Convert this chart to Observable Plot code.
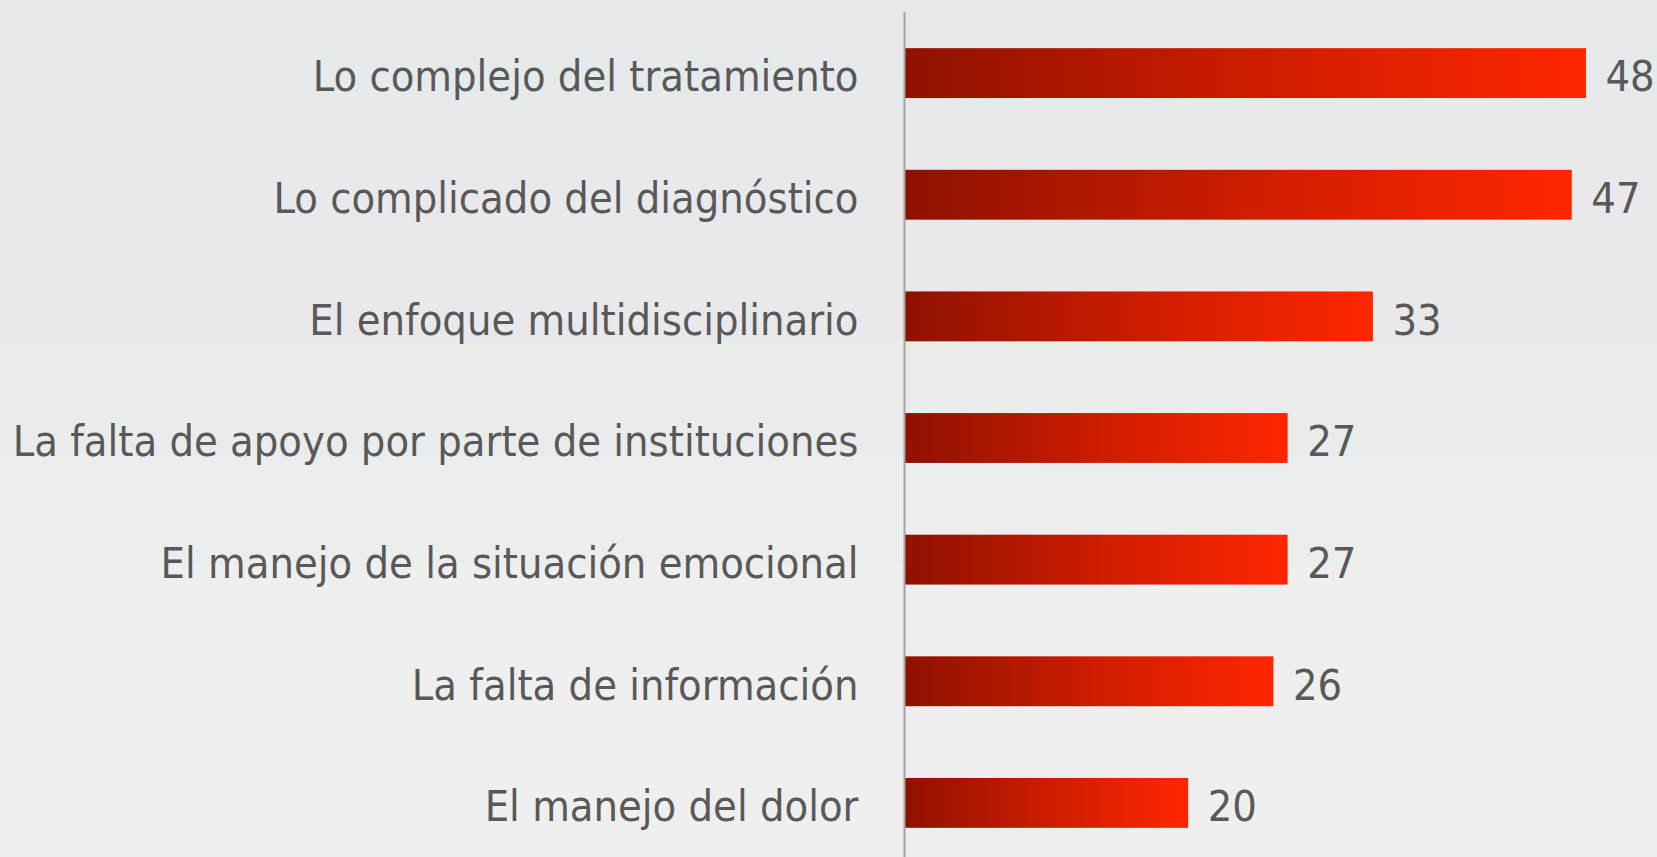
<!DOCTYPE html>
<html>
<head>
<meta charset="utf-8">
<script src="https://cdn.jsdelivr.net/npm/d3@7"></script>
<script src="https://cdn.jsdelivr.net/npm/@observablehq/plot@0.6"></script>
<style>
  html, body { margin: 0; padding: 0; }
  body {
    width: 1657px; height: 857px; overflow: hidden;
    background: linear-gradient(180deg,
      #e6e9ea 0px, #e7eaeb 115px, #e9e9ec 118px, #e9e9eb 340px,
      #e9ede9 343px, #eaeceb 455px, #ebeeee 458px, #eceeee 565px,
      #efefef 568px, #efefef 857px);
  }
  #chart svg { display: block; background: transparent; }
</style>
</head>
<body>
<div id="chart"></div>
<script>
const categories = [
  "Lo complejo del tratamiento",
  "Lo complicado del diagnóstico",
  "El enfoque multidisciplinario",
  "La falta de apoyo por parte de instituciones",
  "El manejo de la situación emocional",
  "La falta de información",
  "El manejo del dolor"
];
const values = [48, 47, 33, 27, 27, 26, 20];

const data = categories.map((c, i) => ({category: c, value: values[i]}));

const font = "'Liberation Sans Narrow', 'DejaVu Sans Condensed', 'Open Sans', sans-serif";

const plot = Plot.plot({
  width: 1657,
  height: 857,
  marginLeft: 904,
  marginRight: 71,
  marginTop: 36,
  marginBottom: 17,
  style: {background: "transparent", fontFamily: font, color: "#595959"},
  x: {domain: [0, 48], axis: null},
  y: {domain: categories, paddingInner: 0.59, paddingOuter: 0.1, round: false, axis: null},
  marks: [
    () => {
      const svg = d3.create("svg:defs");
      const g = svg.append("linearGradient").attr("id", "barGrad")
        .attr("x1", "0%").attr("x2", "100%").attr("y1", "0%").attr("y2", "0%");
      g.append("stop").attr("offset", "0%").attr("stop-color", "#8e1100");
      g.append("stop").attr("offset", "50%").attr("stop-color", "#cc1c00");
      g.append("stop").attr("offset", "100%").attr("stop-color", "#ff2600");
      return svg.node();
    },
    Plot.barX(data, {x: "value", y: "category", fill: "url(#barGrad)"}),
    Plot.ruleX([0], {stroke: "#a3a3a3", strokeWidth: 2, insetTop: -24, insetBottom: -17}),
    Plot.text(data, {
      x: 0, y: "category", text: "category",
      textAnchor: "end", dx: -46, dy: 4, fontSize: 43, fill: "#595959"
    }),
    Plot.text(data, {
      x: "value", y: "category", text: d => String(d.value),
      textAnchor: "start", dx: 19, dy: 4, fontSize: 43, fill: "#595959"
    })
  ]
});
document.getElementById("chart").appendChild(plot);
</script>
</body>
</html>
